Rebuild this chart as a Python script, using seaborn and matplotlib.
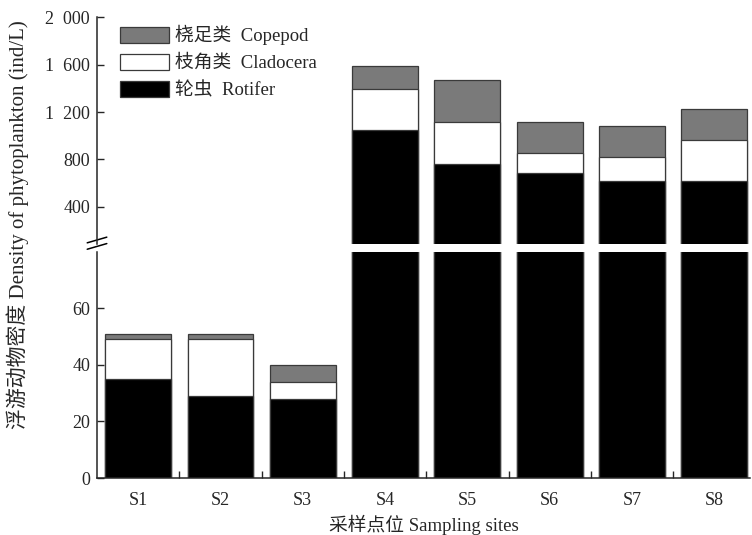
import matplotlib
matplotlib.use("Agg")
import matplotlib.pyplot as plt
from matplotlib.patches import Patch
from matplotlib.ticker import FixedLocator
import seaborn as sns

# values (ind/L)
sites = ["S1", "S2", "S3", "S4", "S5", "S6", "S7", "S8"]
rotifer = [35, 29, 28, 1050, 765, 690, 615, 620]
cladocera = [14, 20, 6, 340, 350, 165, 205, 345]
copepod = [2, 2, 6, 200, 355, 265, 260, 260]

labels = ["桡足类  Copepod", "枝角类  Cladocera", "轮虫  Rotifer"]
colors = ["#7a7a7a", "#ffffff", "#000000"]
upper_ticks = [400, 800, 1200, 1600, 2000]
upper_ticklabels = ["400", "800", "1  200", "1  600", "2  000"]
lower_ticks = [0, 20, 40, 60]

sns.set_style("ticks")
plt.rcParams["font.family"] = ["Liberation Serif", "Noto Sans CJK SC"]
plt.rcParams["font.size"] = 13

fig = plt.figure(figsize=(7.52, 5.35), dpi=100)
ax_top = fig.add_axes([0.129, 0.544, 0.868, 0.424])
ax_bot = fig.add_axes([0.129, 0.1065, 0.868, 0.4234])

# stacked bars: draw cumulative totals, largest first
rot_clad = [r + c for r, c in zip(rotifer, cladocera)]
total = [rc + p for rc, p in zip(rot_clad, copepod)]
layers = [total, rot_clad, rotifer]

for ax in (ax_top, ax_bot):
    for vals, col in zip(layers, colors):
        sns.barplot(x=sites, y=vals, color=col, saturation=1, width=0.8,
                    edgecolor="#3a3a3a", linewidth=0.9, ax=ax)
    ax.set_xlim(-0.5, 7.43)
    sns.despine(ax=ax)
    ax.tick_params(axis="y", direction="in", length=5, width=1, pad=5)
    for s in ax.spines.values():
        s.set_linewidth(1.1)

ax_top.set_ylim(88, 2000)
ax_top.yaxis.set_major_locator(FixedLocator(upper_ticks))
ax_top.set_yticklabels(upper_ticklabels)
ax_top.spines["bottom"].set_visible(False)
ax_top.tick_params(axis="x", bottom=False, labelbottom=False)

ax_bot.set_ylim(0, 80)
ax_bot.yaxis.set_major_locator(FixedLocator(lower_ticks))
ax_bot.tick_params(axis="x", which="major", length=0, pad=10)
ax_bot.xaxis.set_minor_locator(FixedLocator([i + 0.5 for i in range(len(sites) - 1)]))
ax_bot.tick_params(axis="x", which="minor", direction="in", length=5, width=1)
ax_bot.set_xlabel("采样点位 Sampling sites", labelpad=4, fontsize=13.5)

# break marks on the left spine
kw = dict(color="black", lw=1.1, clip_on=False)
ax_bot.plot([-0.015, 0.015], [1.01, 1.035], transform=ax_bot.transAxes, **kw)
ax_top.plot([-0.015, 0.015], [0.005, 0.03], transform=ax_top.transAxes, **kw)

fig.text(0.023, 0.580, "浮游动物密度 Density of phytoplankton (ind/L)",
         rotation=90, ha="center", va="center", fontsize=15)

handles = [Patch(facecolor=c, edgecolor="#3a3a3a", linewidth=0.9) for c in colors]
ax_top.legend(handles, labels, loc="upper left", bbox_to_anchor=(0.024, 0.998),
              frameon=False, handlelength=2.6, handleheight=0.95,
              labelspacing=0.45, handletextpad=0.3, borderaxespad=0,
              fontsize=13.5)

fig.savefig("out.png", dpi=100)
